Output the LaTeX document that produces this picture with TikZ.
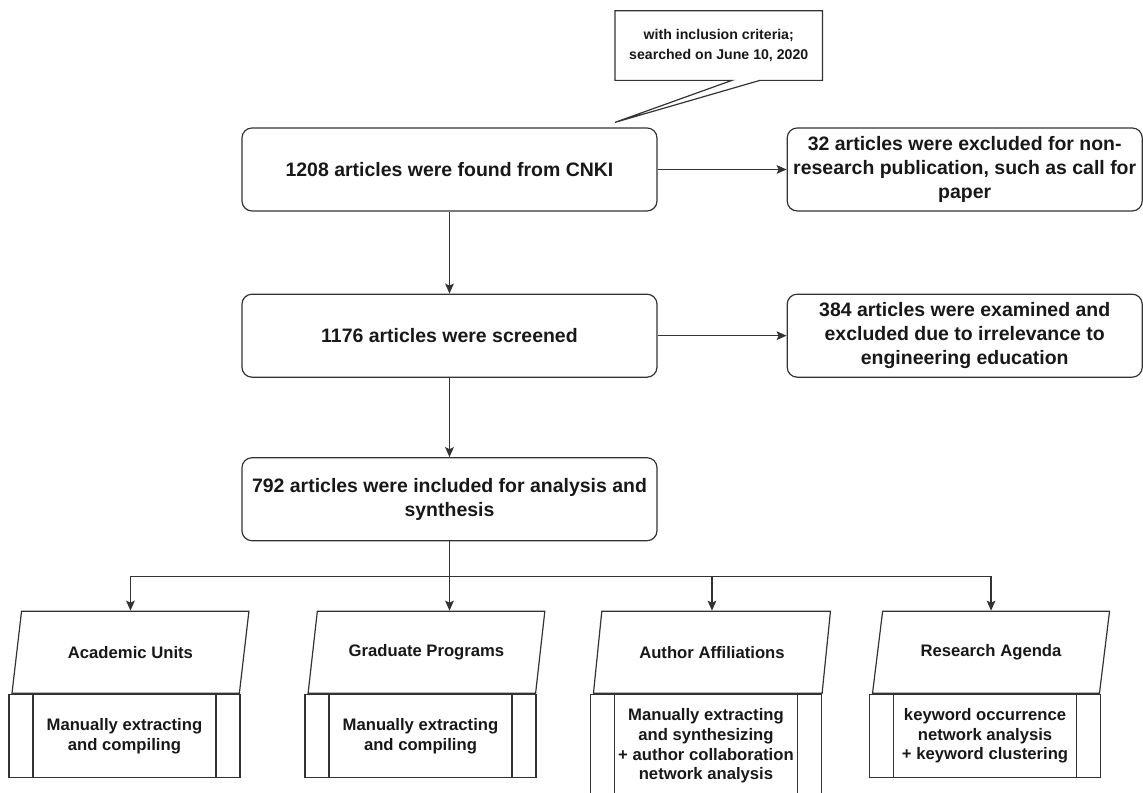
\documentclass[tikz,border=0pt]{standalone}
\usepackage{fontspec}
\setmainfont{Liberation Sans}
\definecolor{linegray}{RGB}{51, 51, 51}
\definecolor{textgray}{RGB}{24, 24, 24}
\usetikzlibrary{arrows.meta, positioning, shapes.geometric, calc}
\tikzset{
	stage/.style={rectangle, rounded corners=7.5pt, draw=linegray, line width=0.9pt, align=center, inner sep=2pt, minimum width=311.25pt, minimum height=62.25pt, text=textgray, font=\bfseries\fontsize{14.6}{18}\selectfont},
	excluded/.style={stage, minimum width=266.25pt},
	notebox/.style={rectangle, align=center, inner sep=2pt, minimum width=155.25pt, minimum height=51.75pt, text=textgray, font=\bfseries\fontsize{10.6}{15.5}\selectfont},
	category/.style={trapezium, trapezium left angle=72, trapezium right angle=108, trapezium stretches=true, draw=linegray, line width=0.9pt, align=center, inner sep=2pt, minimum width=177.75pt, minimum height=61.5pt, text=textgray, font=\bfseries\fontsize{12.5}{14.8}\selectfont},
	process/.style={rectangle, draw=linegray, line width=0.9pt, align=center, inner sep=2pt, minimum width=173.25pt, minimum height=62.25pt, text=textgray, font=\bfseries\fontsize{12.5}{14.8}\selectfont,
		path picture={\draw[linegray, line width=0.9pt] ([xshift=18pt]path picture bounding box.north west) -- ([xshift=18pt]path picture bounding box.south west) ([xshift=-18pt]path picture bounding box.north east) -- ([xshift=-18pt]path picture bounding box.south east);}},
	arrow/.style={-{Stealth[length=7.5pt, width=6.5pt, inset=1.5pt]}, line width=0.9pt, draw=linegray},
	link/.style={line width=0.9pt, draw=linegray},
}

\begin{document}
\begin{tikzpicture}[node distance=61.5pt]
		\useasboundingbox (-337.1pt,127.1pt) rectangle (520.1pt,-466.9pt);
		% main column
		\node[stage] (find) {1208 articles were found from CNKI};
		\node[excluded, right=96.75pt of find] (excl1) {32 articles were excluded for non-\\research publication, such as call for\\paper};
		\node[stage, below=of find] (screen) {1176 articles were screened};
		\node[excluded, right=96.75pt of screen] (excl2) {384 articles were examined and\\excluded due to irrelevance to\\engineering education};
		\node[stage, below=59.5pt of screen] (incl) {792 articles were included for analysis and\\synthesis};
		% search note
		\node[notebox, anchor=south west] (note) at ([xshift=124.1pt, yshift=35.25pt]find.north) {with inclusion criteria;\\searched on June 10, 2020};
		\coordinate (tip) at ([xshift=124.1pt, yshift=3.75pt]find.north);
		\draw[link] (note.south west) -- (note.north west) -- (note.north east) -- (note.south east) -- ([xshift=108.75pt]note.south west) -- (tip) -- ([xshift=87.75pt]note.south west) -- cycle;
		% analysis branches
		\node[category, below=52pt of incl, xshift=-17.25pt] (prog) {Graduate Programs};
		\node[category] (units) at ([xshift=-222pt]prog) {Academic Units};
		\node[category] (affil) at ([xshift=214.1pt]prog) {Author Affiliations};
		\node[category] (agenda) at ([xshift=423.4pt]prog) {Research Agenda};
		\node[process, below=0pt of units, xshift=-4.5pt] (unitsproc) {Manually extracting\\and compiling};
		\node[process, below=0pt of prog, xshift=-4.5pt] (progproc) {Manually extracting\\and compiling};
		\node[process, below=0pt of affil, xshift=-4.5pt, minimum height=77pt] (affilproc) {Manually extracting\\and synthesizing\\+ author collaboration\\network analysis};
		\node[process, below=0pt of agenda, xshift=-4.5pt] (agendaproc) {keyword occurrence\\network analysis\\+ keyword clustering};
		\coordinate (split) at ([yshift=-26.25pt]incl.south);
		\draw[arrow] (find) -- (excl1);
		\draw[arrow] (find) -- (screen);
		\draw[arrow] (screen) -- (excl2);
		\draw[arrow] (screen) -- (incl);
		\draw[link] (incl.south) -- (split);
		\draw[arrow] (split) -- (split |- prog.north);
		\draw[arrow] (split) -| (units.north);
		\draw[arrow] (split) -| (affil.north);
		\draw[arrow] (split) -| (agenda.north);
	\end{tikzpicture}
\end{document}
